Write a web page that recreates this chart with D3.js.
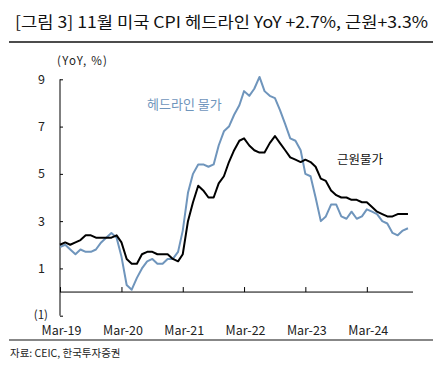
<!DOCTYPE html>
<html><head><meta charset="utf-8">
<script src="https://cdn.jsdelivr.net/npm/d3@7"></script>
<style>
html,body{margin:0;padding:0;background:#fff;}
svg{display:block;}
text{font-family:"Noto Sans CJK KR","Noto Sans",sans-serif;}
</style></head>
<body>
<script>
const title = "[그림 3] 11월 미국 CPI 헤드라인 YoY +2.7%, 근원+3.3%";
const source = "자료: CEIC, 한국투자증권";
const unitLabel = "(YoY, %)";
const startMonth = "2019-03";
const headline = [1.9,2.0,1.8,1.6,1.8,1.7,1.7,1.8,2.1,2.3,
  2.5,2.3,1.5,0.3,0.1,0.6,1.0,1.3,1.4,1.2,1.2,1.4,
  1.4,1.7,2.6,4.2,5.0,5.4,5.4,5.3,5.4,6.2,6.8,7.0,
  7.5,7.9,8.5,8.3,8.6,9.1,8.5,8.3,8.2,7.7,7.1,6.5,
  6.4,6.0,5.0,4.9,4.0,3.0,3.2,3.7,3.7,3.2,3.1,3.4,
  3.1,3.2,3.5,3.4,3.3,3.0,2.9,2.5,2.4,2.6,2.7];
const core = [2.0,2.1,2.0,2.1,2.2,2.4,2.4,2.3,2.3,2.3,
  2.3,2.4,2.1,1.4,1.2,1.2,1.6,1.7,1.7,1.6,1.6,1.6,
  1.4,1.3,1.6,3.0,3.8,4.5,4.3,4.0,4.0,4.6,4.9,5.5,
  6.0,6.4,6.5,6.2,6.0,5.9,5.9,6.3,6.6,6.3,6.0,5.7,
  5.6,5.5,5.6,5.5,5.3,4.8,4.7,4.3,4.1,4.0,4.0,3.9,
  3.9,3.8,3.8,3.6,3.4,3.3,3.2,3.2,3.3,3.3,3.3];
const xTickLabels = ["Mar-19","Mar-20","Mar-21","Mar-22","Mar-23","Mar-24"];
const yTicks = [9,7,5,3,1,-1];
const seriesLabels = ["헤드라인 물가","근원물가"];

const W=441,H=369;
const svg=d3.select("body").append("svg").attr("width",W).attr("height",H);

const parse=d3.timeParse("%Y-%m");
const t0=parse(startMonth);
const dates=headline.map((_,i)=>d3.timeMonth.offset(t0,i));
const x=d3.scaleTime().domain([t0,d3.timeMonth.offset(t0,69)]).range([60,413]);
const y=d3.scaleLinear().domain([-1,9]).range([315.7,79.3]);

// title
svg.append("text").attr("x",15).attr("y",28).attr("font-size",16).attr("fill","#111")
  .attr("textLength",413).attr("lengthAdjust","spacingAndGlyphs").text(title);
svg.append("line").attr("x1",9).attr("x2",433).attr("y1",42).attr("y2",42).attr("stroke","#111").attr("stroke-width",1.5);
svg.append("line").attr("x1",9).attr("x2",433).attr("y1",340).attr("y2",340).attr("stroke","#111").attr("stroke-width",1.2);
svg.append("text").attr("x",10).attr("y",357).attr("font-size",10.5).attr("fill","#222").text(source);

// y axis
const yAxis=d3.axisRight(y).tickValues(yTicks).tickSize(3).tickFormat("");
const gy=svg.append("g").attr("transform","translate(60,0)").call(yAxis);
gy.select(".domain").attr("stroke","#000").attr("d",`M0,${y(9)}V${y(-1)}`);
gy.selectAll(".tick line").attr("stroke","#000");
svg.selectAll(".ylab").data(yTicks).enter().append("text")
  .attr("x",d=>d<0?48:45).attr("y",d=>d<0?y(d)+3:y(d)+4.5).attr("text-anchor","end")
  .attr("font-size",d=>d<0?11.5:12.5).attr("fill","#222").text(d=>d<0?`(${-d})`:d);
svg.append("text").attr("x",57).attr("y",65).attr("font-size",11.5).attr("fill","#222")
  .attr("textLength",50).attr("lengthAdjust","spacing").text(unitLabel);

// x axis at zero
const xTickDates=xTickLabels.map((_,i)=>d3.timeMonth.offset(t0,12*i));
const xAxis=d3.axisTop(x).tickValues(xTickDates).tickSize(5).tickFormat("");
const gx=svg.append("g").attr("transform",`translate(0,${y(0)})`).call(xAxis);
gx.select(".domain").attr("stroke","#000").attr("d",`M60,0H413`);
gx.selectAll(".tick line").attr("stroke","#000");
svg.selectAll(".xlab").data(xTickLabels).enter().append("text")
  .attr("x",(d,i)=>x(xTickDates[i])+1.5).attr("y",335).attr("text-anchor","middle")
  .attr("font-size",12.5).attr("fill","#222").text(d=>d);

// lines
const line=d3.line().x((d,i)=>x(dates[i])).y(d=>y(d));
svg.append("path").datum(headline).attr("d",line).attr("fill","none")
  .attr("stroke","#6f95bc").attr("stroke-width",2).attr("stroke-linejoin","round");
svg.append("path").datum(core).attr("d",line).attr("fill","none")
  .attr("stroke","#000").attr("stroke-width",2).attr("stroke-linejoin","round");

svg.append("text").attr("x",147).attr("y",109).attr("font-size",13).attr("fill","#6f95bc").text(seriesLabels[0]);
svg.append("text").attr("x",337).attr("y",164).attr("font-size",12.5).attr("fill","#111").text(seriesLabels[1]);
</script>
</body></html>
